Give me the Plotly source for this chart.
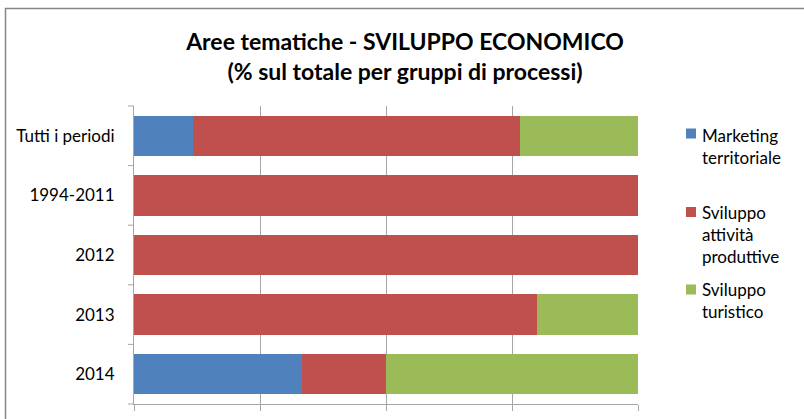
import plotly.graph_objects as go

categories = ["Tutti i periodi", "1994-2011", "2012", "2013", "2014"]
series_names = ["Marketing<br>territoriale", "Sviluppo<br>attività<br>produttive", "Sviluppo<br>turistico"]
marketing = [11.8, 0, 0, 0, 33.3]
attivita = [64.7, 100, 100, 80, 16.7]
turistico = [23.5, 0, 0, 20, 50.0]
colors = ["#4F81BD", "#C0504D", "#9BBB59"]

FONT = "Lato, Open Sans, sans-serif"

fig = go.Figure()
for i, (name, vals) in enumerate(zip(series_names, [marketing, attivita, turistico])):
    fig.add_trace(go.Bar(
        y=categories, x=vals, name=name, orientation="h",
        marker=dict(color=colors[i], line=dict(width=0)),
        showlegend=False,
    ))

L, R, T, B = 134, 638, 106, 404
W, H = 804, 419

def px(x):
    return (x - L) / (R - L)

def py(y):
    return (B - y) / (B - T)

fig.update_layout(
    width=W, height=H,
    barmode="stack", bargap=0.32,
    margin=dict(l=L, r=W - R, t=T, b=H - B, autoexpand=False),
    paper_bgcolor="white", plot_bgcolor="white",
    font=dict(family=FONT, size=17, color="#000000"),
    title=dict(
        text="<b>Aree tematiche - SVILUPPO ECONOMICO<br>(% sul totale per gruppi di processi)</b>",
        x=405 / W, xanchor="center", y=1 - 50 / H, yanchor="middle",
        font=dict(size=23, family=FONT),
    ),
    xaxis=dict(
        range=[0, 100], tickvals=[0, 25, 50, 75, 100], showticklabels=False,
        showgrid=True, gridcolor="#A6A6A6", gridwidth=1,
        showline=True, linecolor="#A6A6A6", ticks="outside", ticklen=6, tickcolor="#A6A6A6",
        zeroline=False, fixedrange=True,
    ),
    yaxis=dict(
        categoryorder="array", categoryarray=categories[::-1],
        showline=True, linecolor="#A6A6A6", ticks="", showgrid=False,
        ticklabelstandoff=15, tickfont=dict(size=17, family=FONT),
        fixedrange=True,
    ),
    showlegend=False,
)

# category boundary ticks on y-axis
for k in range(len(categories) + 1):
    yy = py(T + k * (B - T) / len(categories))
    fig.add_shape(type="line", xref="paper", yref="paper",
                  x0=px(L - 6), x1=0, y0=yy, y1=yy,
                  line=dict(color="#A6A6A6", width=1))

# legend (manual, to match the original spacing)
legend_tops = [128.5, 207, 284.5]
text_tops = [123, 200, 277]
for i, name in enumerate(series_names):
    fig.add_shape(type="rect", xref="paper", yref="paper",
                  x0=px(686), x1=px(696), y0=py(legend_tops[i]), y1=py(legend_tops[i] + 10),
                  fillcolor=colors[i], line=dict(width=0))
    fig.add_annotation(xref="paper", yref="paper", x=px(700), y=py(text_tops[i]),
                       xanchor="left", yanchor="top", align="left", showarrow=False,
                       text=name, font=dict(size=17, family=FONT, color="#000000"))

# chart frame
fig.add_shape(type="rect", xref="paper", yref="paper",
              x0=px(5.5), x1=px(820), y0=py(8.5), y1=py(440),
              line=dict(color="#868686", width=1.5), layer="below")

fig.write_html("out.html", config={"displayModeBar": False},
               post_script="document.body.style.margin='0';document.body.style.overflow='hidden';")
